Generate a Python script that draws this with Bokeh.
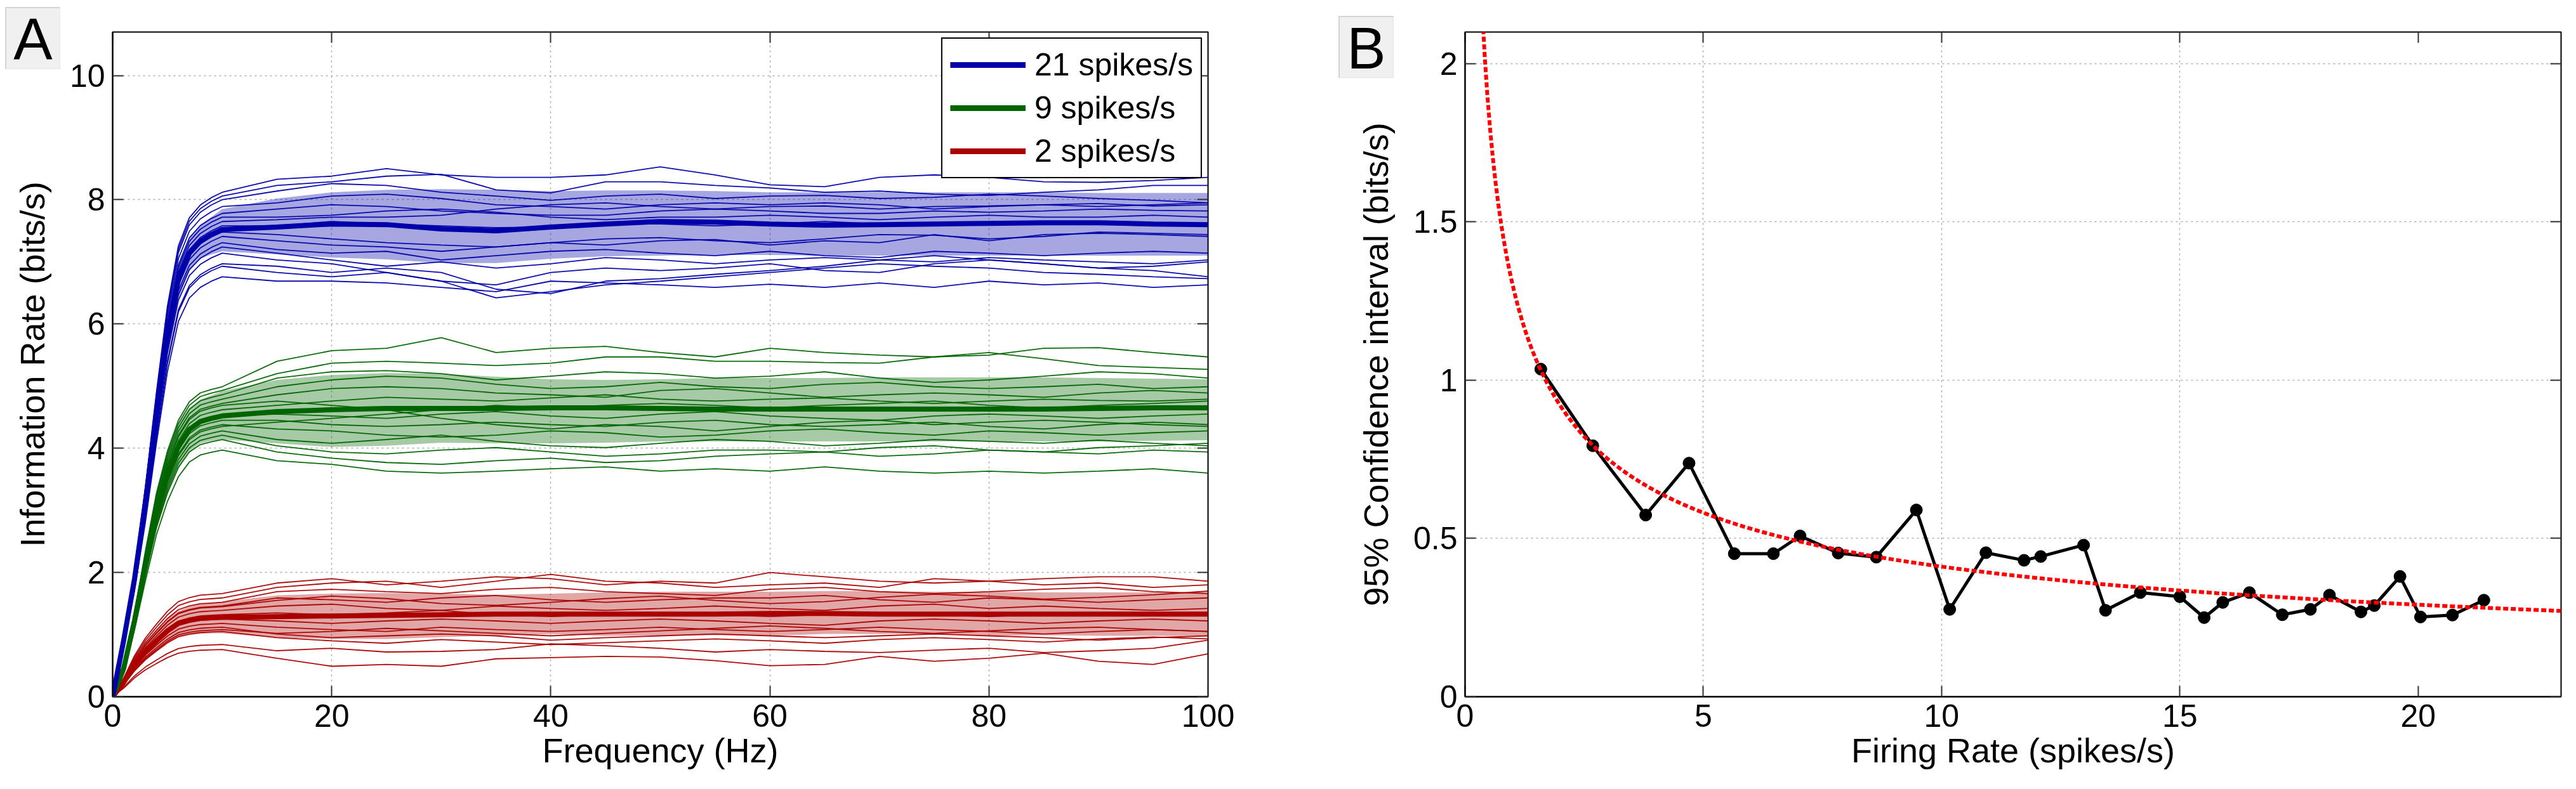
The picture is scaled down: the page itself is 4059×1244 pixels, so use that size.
import numpy as np
from bokeh.plotting import figure
from bokeh.models import (Legend, LegendItem, LinearAxis, FixedTicker, Div,
                          CustomJSTickFormatter, Range1d)
from bokeh.layouts import row, column
from bokeh.embed import file_html
from bokeh.resources import INLINE

# ---------------- Panel A data ----------------
RISE_FREQ = [0, 1, 2, 3, 4, 5, 6, 7, 8, 9]
PLATEAU_FREQ = [10, 15, 20, 25, 30, 35, 40, 45, 50, 55, 60, 65, 70, 75, 80, 85, 90, 95, 100]
FREQ = RISE_FREQ + PLATEAU_FREQ

BLUE_MEAN = [0, 0.9, 1.9, 3.14, 4.54, 5.82, 6.72, 7.14, 7.33, 7.44,
             7.52, 7.56, 7.61, 7.60, 7.53, 7.50, 7.56, 7.61, 7.65, 7.64, 7.61, 7.59, 7.60, 7.61, 7.62, 7.63, 7.63, 7.61, 7.60]
BLUE_UPPER = [0, 1.0, 2.05, 3.35, 4.8, 6.05, 6.95, 7.4, 7.6, 7.72,
              7.85, 8.02, 8.12, 8.16, 8.17, 8.16, 8.14, 8.15, 8.15, 8.14, 8.12, 8.12, 8.12, 8.12, 8.12, 8.12, 8.11, 8.11, 8.11]
BLUE_LOWER = [0, 0.8, 1.75, 2.95, 4.3, 5.55, 6.4, 6.85, 7.05, 7.12,
              7.17, 7.12, 7.07, 7.04, 6.98, 6.98, 7.05, 7.09, 7.10, 7.11, 7.11, 7.10, 7.10, 7.10, 7.10, 7.10, 7.10, 7.10, 7.10]
BLUE_TRACES = [
    [8.12, 8.33, 8.38, 8.50, 8.40, 8.36, 8.36, 8.40, 8.53, 8.40, 8.24, 8.21, 8.36, 8.40, 8.36, 8.29, 8.28, 8.31, 8.36],
    [8.06, 8.23, 8.29, 8.38, 8.41, 8.16, 8.11, 8.29, 8.29, 8.23, 8.19, 8.12, 8.14, 8.09, 8.07, 8.12, 8.16, 8.23, 8.23],
    [8.00, 8.14, 8.26, 8.23, 8.12, 8.06, 7.99, 8.06, 8.09, 8.02, 8.06, 8.07, 8.02, 8.04, 8.09, 8.06, 8.02, 7.99, 7.95],
    [7.89, 7.95, 8.06, 8.09, 8.02, 7.92, 7.89, 7.85, 7.92, 7.95, 7.92, 7.95, 7.92, 7.85, 7.89, 7.92, 7.94, 7.90, 7.92],
    [7.78, 7.85, 7.92, 7.89, 7.82, 7.78, 7.75, 7.75, 7.82, 7.85, 7.82, 7.78, 7.78, 7.82, 7.80, 7.82, 7.85, 7.83, 7.82],
    [7.72, 7.72, 7.75, 7.82, 7.85, 7.80, 7.72, 7.68, 7.72, 7.72, 7.75, 7.72, 7.68, 7.72, 7.75, 7.72, 7.72, 7.75, 7.72],
    [7.58, 7.58, 7.65, 7.61, 7.58, 7.55, 7.56, 7.61, 7.61, 7.58, 7.61, 7.65, 7.61, 7.58, 7.61, 7.65, 7.65, 7.61, 7.58],
    [7.48, 7.44, 7.37, 7.31, 7.27, 7.24, 7.31, 7.37, 7.39, 7.34, 7.31, 7.37, 7.44, 7.43, 7.37, 7.41, 7.48, 7.46, 7.44],
    [7.41, 7.34, 7.27, 7.24, 7.17, 7.24, 7.31, 7.27, 7.34, 7.36, 7.27, 7.34, 7.31, 7.44, 7.34, 7.44, 7.46, 7.44, 7.41],
    [7.31, 7.20, 7.14, 7.17, 7.03, 7.10, 7.17, 7.20, 7.14, 7.10, 7.17, 7.10, 7.07, 7.17, 7.14, 7.10, 7.14, 7.17, 7.14],
    [7.24, 7.14, 7.03, 6.93, 7.00, 6.90, 6.97, 7.07, 7.03, 6.97, 7.03, 7.07, 7.03, 7.00, 7.07, 7.03, 7.00, 6.97, 7.03],
    [7.14, 7.03, 6.97, 6.83, 6.69, 6.63, 6.83, 6.90, 6.86, 6.90, 6.97, 6.86, 6.83, 6.97, 7.03, 6.97, 6.90, 6.93, 7.00],
    [6.97, 6.93, 6.83, 6.90, 6.83, 6.56, 6.49, 6.69, 6.73, 6.80, 6.86, 6.93, 7.03, 7.10, 7.03, 6.97, 6.90, 6.86, 6.76],
    [6.76, 6.69, 6.69, 6.66, 6.59, 6.52, 6.69, 6.66, 6.63, 6.59, 6.64, 6.59, 6.66, 6.59, 6.69, 6.63, 6.66, 6.59, 6.63],
    [6.93, 6.83, 6.76, 6.83, 6.69, 6.42, 6.52, 6.63, 6.69, 6.76, 6.83, 6.90, 6.97, 6.93, 6.90, 6.83, 6.80, 6.76, 6.73],
    [7.65, 7.68, 7.72, 7.72, 7.75, 7.85, 7.92, 7.95, 7.89, 7.85, 7.89, 7.90, 7.85, 7.89, 7.90, 7.92, 7.89, 7.92, 7.95],
]

GREEN_MEAN = [0, 0.45, 1.23, 2.13, 2.97, 3.58, 4.03, 4.30, 4.43, 4.48,
              4.52, 4.59, 4.62, 4.64, 4.64, 4.64, 4.65, 4.65, 4.64, 4.63, 4.63, 4.63, 4.63, 4.63, 4.63, 4.63, 4.64, 4.65, 4.65]
GREEN_UPPER = [0, 0.52, 1.38, 2.35, 3.25, 3.92, 4.40, 4.65, 4.78, 4.85,
               4.92, 5.10, 5.18, 5.21, 5.20, 5.15, 5.11, 5.10, 5.11, 5.13, 5.13, 5.13, 5.14, 5.14, 5.14, 5.14, 5.13, 5.12, 5.11]
GREEN_LOWER = [0, 0.38, 1.08, 1.92, 2.70, 3.25, 3.67, 3.95, 4.08, 4.12,
               4.14, 4.08, 4.02, 4.04, 4.09, 4.08, 4.08, 4.09, 4.11, 4.11, 4.11, 4.11, 4.11, 4.11, 4.11, 4.11, 4.11, 4.12, 4.13]
GREEN_TRACES = [
    [4.99, 5.40, 5.57, 5.61, 5.78, 5.54, 5.61, 5.64, 5.54, 5.47, 5.61, 5.54, 5.50, 5.47, 5.50, 5.61, 5.62, 5.54, 5.47],
    [4.93, 5.20, 5.37, 5.40, 5.37, 5.33, 5.37, 5.47, 5.47, 5.40, 5.40, 5.38, 5.37, 5.47, 5.54, 5.44, 5.33, 5.30, 5.27],
    [4.86, 5.13, 5.23, 5.25, 5.20, 5.10, 5.16, 5.23, 5.20, 5.13, 5.16, 5.23, 5.13, 5.06, 5.10, 5.16, 5.23, 5.20, 5.13],
    [4.79, 4.99, 5.10, 5.16, 5.13, 5.03, 4.96, 4.99, 5.06, 4.99, 4.96, 5.03, 5.06, 4.99, 4.96, 4.99, 5.03, 4.96, 4.99],
    [4.72, 4.86, 4.96, 4.99, 4.96, 4.89, 4.86, 4.82, 4.93, 4.96, 4.89, 4.82, 4.86, 4.89, 4.86, 4.82, 4.89, 4.93, 4.89],
    [4.62, 4.69, 4.76, 4.82, 4.79, 4.76, 4.81, 4.86, 4.79, 4.76, 4.79, 4.81, 4.76, 4.72, 4.76, 4.79, 4.77, 4.76, 4.79],
    [4.52, 4.55, 4.52, 4.48, 4.55, 4.59, 4.52, 4.48, 4.55, 4.59, 4.52, 4.48, 4.45, 4.52, 4.55, 4.52, 4.48, 4.52, 4.55],
    [4.45, 4.45, 4.38, 4.35, 4.38, 4.42, 4.38, 4.35, 4.42, 4.45, 4.38, 4.35, 4.38, 4.42, 4.35, 4.31, 4.38, 4.42, 4.38],
    [4.38, 4.31, 4.28, 4.21, 4.18, 4.21, 4.28, 4.25, 4.18, 4.21, 4.28, 4.31, 4.25, 4.21, 4.28, 4.25, 4.21, 4.25, 4.28],
    [4.28, 4.14, 4.08, 4.14, 4.21, 4.11, 4.04, 4.01, 4.08, 4.14, 4.11, 4.04, 4.08, 4.14, 4.11, 4.08, 4.13, 4.08, 4.04],
    [4.21, 4.04, 3.94, 3.91, 3.97, 4.01, 3.94, 3.87, 3.91, 3.97, 3.97, 3.94, 4.01, 4.04, 3.97, 3.94, 4.01, 4.04, 4.08],
    [4.14, 3.94, 3.84, 3.77, 3.74, 3.80, 3.84, 3.77, 3.80, 3.87, 3.91, 3.94, 3.87, 3.91, 3.97, 3.94, 3.91, 3.97, 3.94],
    [3.97, 3.80, 3.74, 3.63, 3.60, 3.63, 3.67, 3.70, 3.63, 3.67, 3.63, 3.70, 3.63, 3.60, 3.63, 3.60, 3.63, 3.67, 3.60],
    [4.35, 4.42, 4.48, 4.55, 4.62, 4.69, 4.65, 4.69, 4.72, 4.69, 4.65, 4.69, 4.72, 4.76, 4.69, 4.65, 4.69, 4.72, 4.76],
    [4.69, 4.76, 4.69, 4.62, 4.48, 4.38, 4.31, 4.38, 4.35, 4.28, 4.35, 4.42, 4.45, 4.38, 4.42, 4.45, 4.42, 4.38, 4.35],
]

RED_MEAN = [0, 0.23, 0.51, 0.73, 0.90, 1.06, 1.18, 1.23, 1.26, 1.27,
            1.28, 1.29, 1.30, 1.31, 1.32, 1.33, 1.33, 1.33, 1.33, 1.33, 1.34, 1.34, 1.33, 1.33, 1.33, 1.33, 1.33, 1.33, 1.33]
RED_UPPER = [0, 0.28, 0.62, 0.88, 1.08, 1.26, 1.38, 1.45, 1.49, 1.51,
             1.53, 1.63, 1.66, 1.67, 1.66, 1.64, 1.66, 1.68, 1.69, 1.69, 1.69, 1.70, 1.70, 1.69, 1.69, 1.68, 1.68, 1.68, 1.68]
RED_LOWER = [0, 0.18, 0.40, 0.58, 0.72, 0.85, 0.95, 0.99, 1.01, 1.02,
             1.02, 0.95, 0.93, 0.93, 0.96, 0.98, 1.01, 0.98, 0.98, 0.99, 0.98, 1.01, 1.01, 1.01, 0.98, 0.99, 0.98, 0.98, 0.98]
RED_TRACES = [
    [1.66, 1.83, 1.90, 1.80, 1.86, 1.93, 1.90, 1.80, 1.86, 1.83, 2.00, 1.93, 1.86, 1.83, 1.86, 1.90, 1.93, 1.93, 1.86],
    [1.59, 1.76, 1.83, 1.86, 1.76, 1.86, 1.97, 1.86, 1.83, 1.76, 1.80, 1.83, 1.76, 1.90, 1.86, 1.80, 1.83, 1.76, 1.80],
    [1.52, 1.69, 1.73, 1.69, 1.66, 1.73, 1.76, 1.69, 1.66, 1.63, 1.73, 1.76, 1.69, 1.66, 1.69, 1.73, 1.76, 1.69, 1.66],
    [1.46, 1.59, 1.56, 1.52, 1.59, 1.63, 1.56, 1.52, 1.56, 1.59, 1.59, 1.63, 1.56, 1.52, 1.59, 1.56, 1.52, 1.56, 1.59],
    [1.39, 1.46, 1.49, 1.42, 1.39, 1.46, 1.42, 1.39, 1.42, 1.46, 1.42, 1.39, 1.46, 1.49, 1.42, 1.46, 1.42, 1.39, 1.42],
    [1.32, 1.35, 1.32, 1.35, 1.39, 1.32, 1.29, 1.32, 1.35, 1.32, 1.29, 1.32, 1.35, 1.32, 1.29, 1.32, 1.35, 1.34, 1.32],
    [1.25, 1.22, 1.18, 1.22, 1.25, 1.22, 1.18, 1.22, 1.25, 1.22, 1.18, 1.15, 1.22, 1.25, 1.22, 1.18, 1.22, 1.25, 1.22],
    [1.18, 1.12, 1.08, 1.05, 1.12, 1.08, 1.05, 1.08, 1.12, 1.08, 1.05, 1.08, 1.12, 1.08, 1.05, 1.01, 1.05, 1.08, 1.05],
    [1.12, 1.01, 0.95, 0.98, 1.01, 0.98, 0.91, 0.95, 0.98, 1.01, 0.98, 0.95, 0.98, 1.01, 0.98, 0.95, 0.91, 0.95, 0.98],
    [1.05, 0.95, 0.90, 0.86, 0.92, 0.88, 0.84, 0.87, 0.90, 0.93, 0.90, 0.86, 0.92, 0.95, 0.92, 0.88, 0.93, 0.96, 0.93],
    [1.08, 1.02, 1.05, 1.10, 1.06, 1.02, 0.98, 1.02, 1.06, 1.10, 1.14, 1.10, 1.05, 1.02, 1.06, 1.10, 1.12, 1.08, 1.05],
    [0.76, 0.62, 0.49, 0.52, 0.49, 0.61, 0.63, 0.65, 0.64, 0.58, 0.50, 0.52, 0.65, 0.57, 0.62, 0.70, 0.57, 0.52, 0.69],
    [0.84, 0.74, 0.78, 0.72, 0.73, 0.76, 0.85, 0.82, 0.78, 0.72, 0.76, 0.73, 0.71, 0.75, 0.78, 0.71, 0.74, 0.78, 0.91],
    [1.45, 1.55, 1.62, 1.58, 1.50, 1.47, 1.52, 1.58, 1.62, 1.55, 1.50, 1.53, 1.60, 1.65, 1.62, 1.57, 1.60, 1.64, 1.70],
]

GROUP_LABELS = ["21 spikes/s", "9 spikes/s", "2 spikes/s"]
GROUP_COLORS = ["#0000AA", "#006400", "#AA0000"]

X_TICKS_A = [0, 20, 40, 60, 80, 100]
Y_TICKS_A = [0, 2, 4, 6, 8, 10]

# ---------------- Panel B data ----------------
RATE = [1.59, 2.68, 3.79, 4.70, 5.65, 6.47, 7.03, 7.83, 8.63, 9.47, 10.17, 10.93, 11.73, 12.08, 12.98,
        13.44, 14.17, 15.00, 15.51, 15.90, 16.46, 17.15, 17.74, 18.14, 18.80, 19.08, 19.62, 20.05, 20.72, 21.38]
CI = [1.035, 0.793, 0.574, 0.738, 0.452, 0.452, 0.508, 0.454, 0.441, 0.590, 0.276, 0.455, 0.431, 0.443, 0.479,
      0.273, 0.329, 0.316, 0.250, 0.298, 0.329, 0.259, 0.276, 0.321, 0.268, 0.288, 0.380, 0.252, 0.258, 0.305]
FIT_COEF = 1.30     # fitted curve  CI = FIT_COEF * rate ** FIT_EXP
FIT_EXP = -0.5

X_TICKS_B = [0, 5, 10, 15, 20]
Y_TICKS_B = [0, 0.5, 1, 1.5, 2]

PANEL_LETTERS = ["A", "B"]

FONT = "Liberation Sans"
TICK_SIZE = "50px"
LABEL_SIZE = "54px"


def style_axes(p, xticks, yticks, xlabel, ylabel):
    fmt = CustomJSTickFormatter(code="return String(tick);")
    blank = CustomJSTickFormatter(code="return '';")
    p.xaxis.ticker = FixedTicker(ticks=xticks)
    p.yaxis.ticker = FixedTicker(ticks=yticks)
    p.xaxis.formatter = fmt
    p.yaxis.formatter = fmt
    p.xaxis.axis_label = xlabel
    p.yaxis.axis_label = ylabel
    for ax in (p.xaxis, p.yaxis):
        ax.axis_label_text_font = FONT
        ax.axis_label_text_font_size = LABEL_SIZE
        ax.axis_label_text_font_style = "normal"
        ax.axis_label_text_color = "black"
        ax.major_label_text_font = FONT
        ax.major_label_text_font_size = TICK_SIZE
        ax.major_label_text_color = "black"
        ax.axis_line_color = "black"
        ax.axis_line_width = 2
        ax.major_tick_in = 17
        ax.major_tick_out = 0
        ax.major_tick_line_width = 2
        ax.major_tick_line_color = "#333333"
        ax.minor_tick_line_color = None
    p.xaxis.major_label_standoff = 12
    p.xaxis.axis_label_standoff = 4
    p.yaxis.major_label_standoff = 12
    p.yaxis.axis_label_standoff = 26
    for side, ticks in (("above", xticks), ("right", yticks)):
        ax = LinearAxis(ticker=FixedTicker(ticks=ticks), formatter=blank,
                        major_label_text_font_size="10px",
                        axis_line_color=None, major_tick_in=17, major_tick_out=0,
                        major_tick_line_width=2, major_tick_line_color="#333333",
                        minor_tick_line_color=None, major_label_standoff=0)
        p.add_layout(ax, side)
    p.outline_line_color = "black"
    p.outline_line_width = 2
    p.outline_line_alpha = 1
    for g in (p.xgrid, p.ygrid):
        g.grid_line_color = "#9a9a9a"
        g.grid_line_dash = "3 5"
        g.grid_line_width = 1.5
        g.grid_line_alpha = 0.8
    p.xgrid.ticker = FixedTicker(ticks=xticks[1:-1])
    p.ygrid.ticker = FixedTicker(ticks=[t for t in yticks if t != 0])
    p.background_fill_color = "white"
    p.border_fill_color = "white"
    p.border_fill_alpha = 0.0   # let the panel-letter box underneath show through


def letter_div(letter, left, top):
    html = ('<div style="width:87px;height:98px;box-sizing:border-box;background:#f0f0f0;'
            'border-top:2px solid #d4d4d4;border-left:2px solid #d4d4d4;'
            'border-right:1px solid #e6e6e6;border-bottom:1px solid #e6e6e6;'
            'font-family:\'Liberation Sans\',Arial,sans-serif;font-size:92px;line-height:98px;'
            'text-align:center;color:black;">%s</div>' % letter)
    return Div(text=html, width=87, height=98, margin=(top, 0, -(top + 98), left))


# ---------------- Panel A ----------------
pa = figure(frame_width=1726, frame_height=1048, min_border_left=177, min_border_right=197,
            min_border_top=50, min_border_bottom=130,
            x_range=Range1d(0, 100), y_range=Range1d(0, 10.7),
            output_backend="svg", toolbar_location=None)
style_axes(pa, X_TICKS_A, Y_TICKS_A, "Frequency (Hz)", "Information Rate (bits/s)")

groups = [
    (BLUE_MEAN, BLUE_UPPER, BLUE_LOWER, BLUE_TRACES),
    (GREEN_MEAN, GREEN_UPPER, GREEN_LOWER, GREEN_TRACES),
    (RED_MEAN, RED_UPPER, RED_LOWER, RED_TRACES),
]
n_rise = len(RISE_FREQ)
for (mean, upper, lower, traces), color in zip(groups[::-1], GROUP_COLORS[::-1]):
    pa.varea(x=FREQ, y1=lower, y2=upper, fill_color=color, fill_alpha=0.35)
for (mean, upper, lower, traces), color in zip(groups[::-1], GROUP_COLORS[::-1]):
    m10 = mean[n_rise]
    for t in traces:
        k = t[0] / m10
        ys = [v * k for v in mean[:n_rise]] + list(t)
        pa.line(FREQ[:len(ys)], ys, line_color=color, line_width=1.8, line_alpha=0.95)
for (mean, upper, lower, traces), color in zip(groups[::-1], GROUP_COLORS[::-1]):
    pa.line(FREQ, mean, line_color=color, line_width=8)

items = []
for lab, color in zip(GROUP_LABELS, GROUP_COLORS):
    r = pa.line([-50, -40], [-5, -5], line_color=color, line_width=9)
    items.append(LegendItem(label=lab, renderers=[r]))
leg = Legend(items=items, location="top_right", margin=9,
             label_text_font=FONT, label_text_font_size=TICK_SIZE, label_text_color="black",
             glyph_width=119, glyph_height=50, label_height=50, spacing=10,
             padding=12, label_standoff=14,
             border_line_color="black", border_line_width=2.5, border_line_alpha=1,
             background_fill_color="white", background_fill_alpha=1)
pa.add_layout(leg)

# ---------------- Panel B ----------------
pb = figure(frame_width=1727, frame_height=1048, min_border_left=208, min_border_right=8,
            min_border_top=50, min_border_bottom=130,
            x_range=Range1d(0, 23), y_range=Range1d(0, 2.1),
            output_backend="svg", toolbar_location=None)
style_axes(pb, X_TICKS_B, Y_TICKS_B, "Firing Rate (spikes/s)", "95% Confidence interval (bits/s)")

fit_x = np.linspace(0.3, 23, 400)
fit_y = FIT_COEF * fit_x ** FIT_EXP
pb.line(RATE, CI, line_color="black", line_width=5)
pb.scatter(RATE, CI, size=19, fill_color="black", line_color="black")
pb.line(fit_x, fit_y, line_color="#FF0000", line_width=6, line_dash="8 4")

col_a = column(letter_div(PANEL_LETTERS[0], 8, 11), pa)
col_b = column(letter_div(PANEL_LETTERS[1], 9, 25), pb)
layout = row(col_a, col_b)
open("out.html", "w").write(file_html(layout, INLINE))
